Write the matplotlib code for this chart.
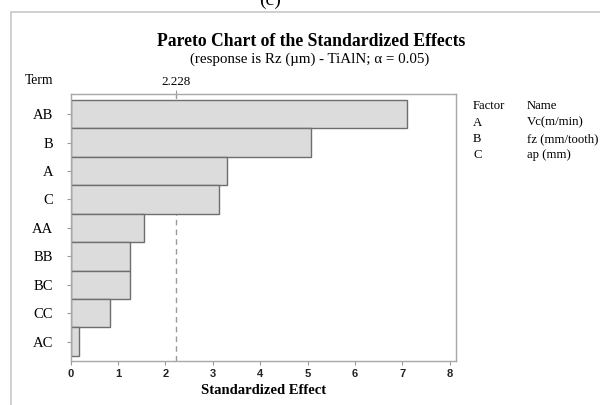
import matplotlib
matplotlib.use("Agg")
import matplotlib.pyplot as plt
from matplotlib.patches import Rectangle

terms = ["AB", "B", "A", "C", "AA", "BB", "BC", "CC", "AC"]
effects = [7.09, 5.07, 3.31, 3.13, 1.56, 1.25, 1.25, 0.84, 0.17]
critical = 2.228
xticks = [0, 1, 2, 3, 4, 5, 6, 7, 8]
factors = ["A", "B", "C"]
names = ["Vc(m/min)", "fz (mm/tooth)", "ap (mm)"]

serif = "Liberation Serif"
W, H = 600, 405
fig = plt.figure(figsize=(6.0, 4.05), dpi=100)

def fx(px):
    return px / W

def fy(py):
    return 1 - py / H

ax = fig.add_axes([fx(70.5), fy(361), fx(456) - fx(70.5), fy(94) - fy(361)])

ypos = list(range(len(terms)))
ax.barh(ypos, effects, height=1.0, color="#dcdcdc", edgecolor="#6e6e6e",
        linewidth=1.0, zorder=2)
ax.axvline(critical, color="#9a9a9a", linestyle=(0, (4, 3)), linewidth=1.0, zorder=1)

ax.set_xlim(0, 8.13)
ax.set_ylim(len(terms) - 0.5 + 0.18, -0.5 - 0.21)
ax.set_yticks(ypos)
ax.set_yticklabels(terms, fontfamily=serif, fontsize=10.5)
ax.set_xticks(xticks)
ax.set_xticklabels([str(t) for t in xticks], fontfamily="Liberation Sans",
                   fontweight="bold", fontsize=8, color="#222222")
ax.tick_params(axis="y", length=3, color="#9a9a9a", pad=9.5)
ax.tick_params(axis="x", length=3, color="#9a9a9a", pad=3)
for s in ax.spines.values():
    s.set_color("#a8a8a8")
    s.set_linewidth(1.0)

sec = ax.secondary_xaxis("top")
sec.set_xticks([critical])
sec.set_xticklabels([f"{critical:.3f}"], fontfamily=serif, fontsize=9.4)
sec.tick_params(length=3, color="#9a9a9a", pad=1)
sec.spines["top"].set_visible(False)

ax.set_xlabel("Standardized Effect", fontfamily=serif, fontweight="bold",
              fontsize=10.5, labelpad=3)

fig.text(fx(311), fy(42), "Pareto Chart of the Standardized Effects",
         ha="center", va="center", fontfamily=serif, fontweight="bold", fontsize=12.7)
fig.text(fx(310), fy(59), "(response is Rz (µm) - TiAlN; α = 0.05)",
         ha="center", va="center", fontfamily=serif, fontsize=10.8)
fig.text(fx(25), fy(80), "Term", ha="left", va="center", fontfamily=serif, fontsize=9.8)
fig.text(fx(270), fy(5), "(c)", ha="center", va="baseline", fontfamily=serif, fontsize=14)

tfs = 9.2
fig.text(fx(473), fy(109), "Factor", ha="left", va="baseline", fontfamily=serif, fontsize=tfs)
fig.text(fx(527), fy(109), "Name", ha="left", va="baseline", fontfamily=serif, fontsize=tfs)
for i, (f, n) in enumerate(zip(factors, names)):
    y = 125.5 + 16.3 * i
    fig.text(fx(473), fy(y), f, ha="left", va="baseline", fontfamily=serif, fontsize=tfs)
    fig.text(fx(527), fy(y), n, ha="left", va="baseline", fontfamily=serif, fontsize=tfs)

fig.patches.append(Rectangle((fx(11), -0.1), 1.2, fy(12) + 0.1, transform=fig.transFigure,
                             fill=False, edgecolor="#c8c8c8", linewidth=1.2))

fig.savefig("out.png", dpi=100)
